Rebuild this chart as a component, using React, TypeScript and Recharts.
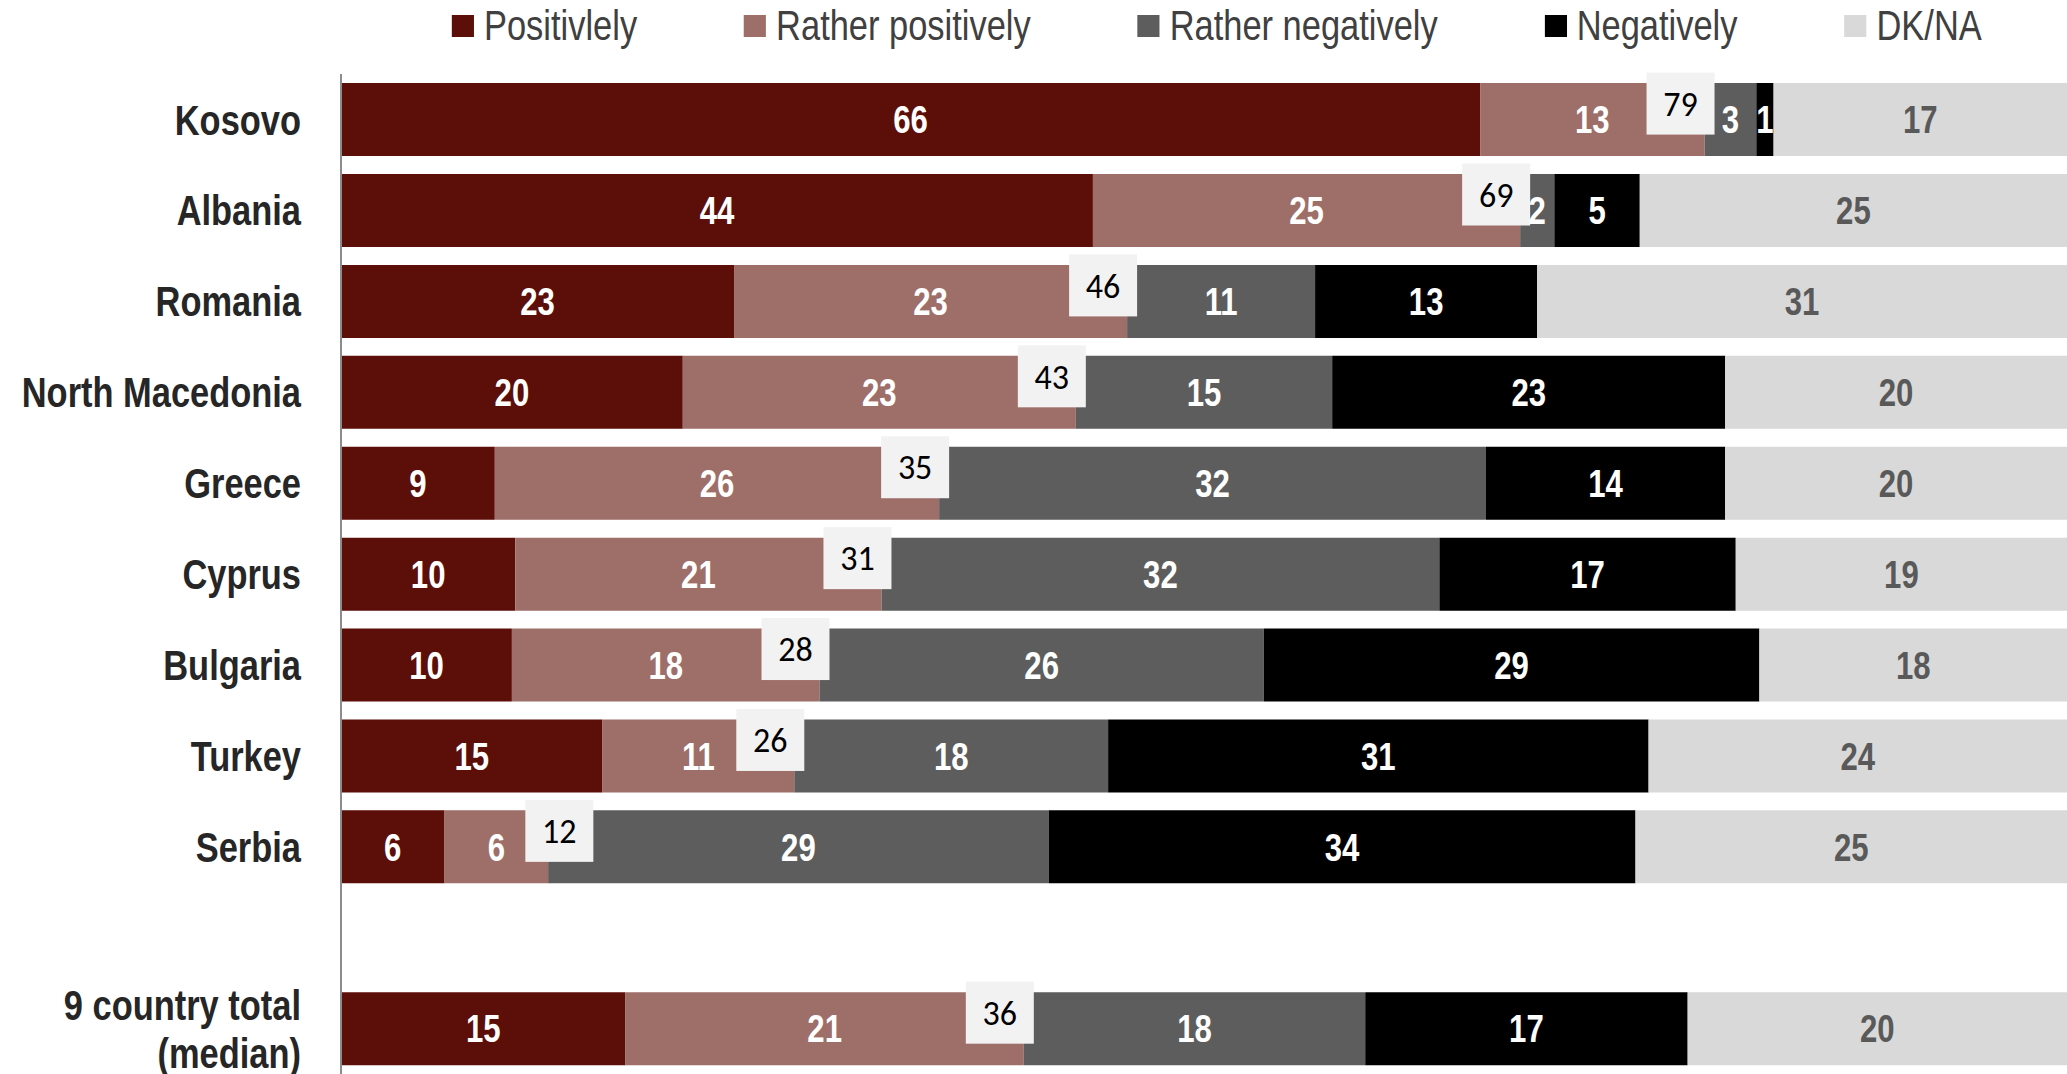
import { BarChart, Bar, XAxis, YAxis, Legend, LabelList } from "recharts";

// no Arial Narrow here, so Liberation Sans (Arial metrics) is squeezed horizontally
const FONT = '"Liberation Sans", Arial, sans-serif';
const BOX_FONT = 'Carlito, Calibri, "Liberation Sans", sans-serif';
const NARROW = 0.82;

// rows, top to bottom; the blank entry is the spacer before the median row
const categories = [
  "Kosovo",
  "Albania",
  "Romania",
  "North Macedonia",
  "Greece",
  "Cyprus",
  "Bulgaria",
  "Turkey",
  "Serbia",
  "",
  "9 country total\n(median)",
];

const positively = [66, 44, 23, 20, 9, 10, 10, 15, 6, null, 15];
const ratherPositively = [13, 25, 23, 23, 26, 21, 18, 11, 6, null, 21];
const ratherNegatively = [3, 2, 11, 15, 32, 32, 26, 18, 29, null, 18];
const negatively = [1, 5, 13, 23, 14, 17, 29, 31, 34, null, 17];
const dkna = [17, 25, 31, 20, 20, 19, 18, 24, 25, null, 20];
// positively + rather positively, shown in the grey boxes
const positiveTotal = [79, 69, 46, 43, 35, 31, 28, 26, 12, null, 36];

const series = [
  { key: "pos", name: "Positivlely", color: "#5C0E08", text: "#FFFFFF", values: positively },
  { key: "rpos", name: "Rather positively", color: "#9E6E69", text: "#FFFFFF", values: ratherPositively },
  { key: "rneg", name: "Rather negatively", color: "#5D5D5D", text: "#FFFFFF", values: ratherNegatively },
  { key: "neg", name: "Negatively", color: "#000000", text: "#FFFFFF", values: negatively },
  { key: "dk", name: "DK/NA", color: "#D9D9D9", text: "#595959", values: dkna },
];

const data = categories.map((name, i) => {
  const row: Record<string, string | number | null> = { name, posTotal: positiveTotal[i] };
  series.forEach((s) => {
    row[s.key] = s.values[i];
  });
  return row;
});

function segmentLabel(color: string) {
  return (props: any) => {
    const { x, y, width, height, value } = props;
    if (value == null || value === "") return null;
    const cx = Number(x) + Number(width) / 2;
    const cy = Number(y) + Number(height) / 2;
    return (
      <text
        transform={`translate(${cx},${cy}) scale(${NARROW},1)`}
        dy="0.36em"
        textAnchor="middle"
        fill={color}
        fontFamily={FONT}
        fontWeight="bold"
        fontSize={38}
      >
        {value}
      </text>
    );
  };
}

// grey box sitting on the border between rather positively and rather negatively,
// pushed right when the segment is too short to hold its own label
const sumBox = (props: any) => {
  const { x, y, width, height, value } = props;
  if (value == null || value === "") return null;
  const edge = Number(x) + Number(width);
  const segCenter = Number(x) + Number(width) / 2;
  const cx = Math.max(edge - 24, segCenter + 63);
  const cy = Number(y) + Number(height) / 2 - 16;
  return (
    <g>
      <rect x={cx - 34} y={cy - 31} width={68} height={62} fill="#F2F2F2" />
      <text x={cx} y={cy} dy="0.36em" textAnchor="middle" fill="#000000" fontFamily={BOX_FONT} fontSize={34}>
        {value}
      </text>
    </g>
  );
};

const CountryTick = (props: any) => {
  const { x, y, payload } = props;
  const lines = String(payload.value).split("\n");
  const lh = 48;
  return (
    <text
      transform={`translate(${x},${y}) scale(${NARROW},1)`}
      textAnchor="end"
      fill="#262626"
      fontFamily={FONT}
      fontWeight="bold"
      fontSize={42}
    >
      {lines.map((line, i) => (
        <tspan key={i} x={0} y={(i - (lines.length - 1) / 2) * lh} dy="0.36em">
          {line}
        </tspan>
      ))}
    </text>
  );
};

const LegendRow = () => (
  <div
    style={{
      display: "flex",
      alignItems: "center",
      height: 52,
      paddingLeft: 452 / NARROW,
      gap: 107 / NARROW,
      fontFamily: FONT,
      fontSize: 42,
      color: "#404040",
      whiteSpace: "nowrap",
      transform: `scaleX(${NARROW})`,
      transformOrigin: "left center",
    }}
  >
    {series.map((s) => (
      <div key={s.key} style={{ display: "flex", alignItems: "center" }}>
        <span
          style={{
            width: 22 / NARROW,
            height: 22,
            background: s.color,
            marginRight: 10 / NARROW,
            display: "inline-block",
          }}
        />
        {s.name}
      </div>
    ))}
  </div>
);

export default function App() {
  return (
    <div style={{ position: "absolute", left: 0, top: 0, width: 2067, height: 1074, background: "#FFFFFF" }}>
      <BarChart
        width={2067}
        height={1074}
        data={data}
        layout="vertical"
        stackOffset="expand"
        barCategoryGap="10%"
        margin={{ top: 22, right: 0, bottom: 0, left: 0 }}
      >
        <Legend
          verticalAlign="top"
          wrapperStyle={{ top: 0, left: 0, width: 2067, height: 52 }}
          content={() => <LegendRow />}
        />
        <XAxis type="number" hide domain={[0, 1]} />
        <YAxis
          type="category"
          dataKey="name"
          width={341}
          axisLine={{ stroke: "#8C8C8C", strokeWidth: 2 }}
          tickLine={false}
          tickSize={0}
          tickMargin={40}
          tick={<CountryTick />}
          interval={0}
        />
        {series.map((s) => (
          <Bar key={s.key} dataKey={s.key} name={s.name} stackId="a" fill={s.color} isAnimationActive={false}>
            <LabelList dataKey={s.key} content={segmentLabel(s.text)} />
            {s.key === "rpos" && <LabelList dataKey="posTotal" content={sumBox} />}
          </Bar>
        ))}
      </BarChart>
    </div>
  );
}
